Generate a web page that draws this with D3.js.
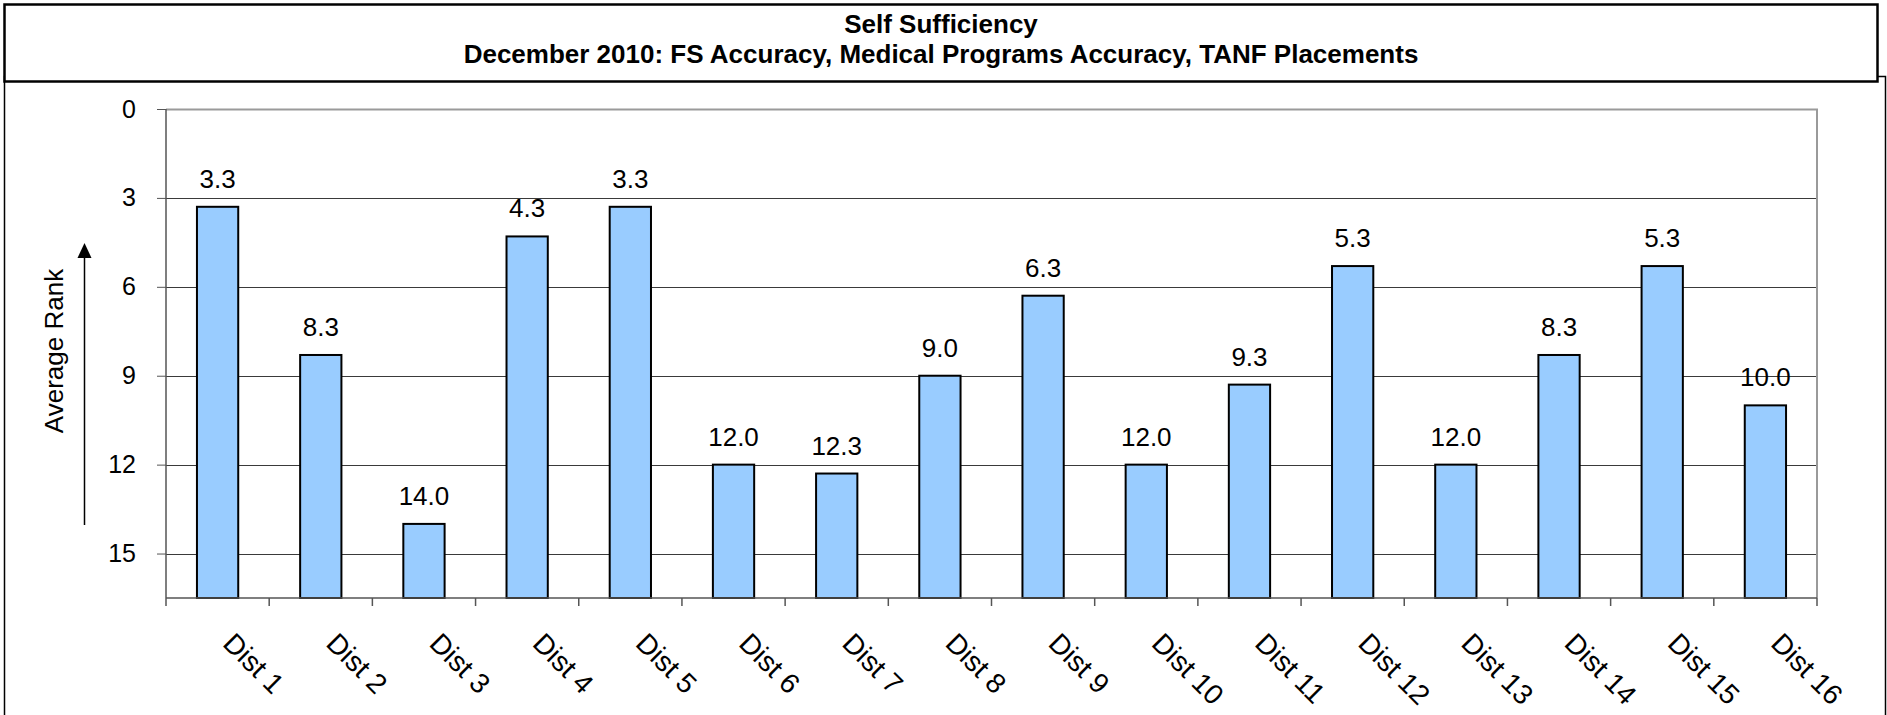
<!DOCTYPE html>
<html>
<head>
<meta charset="utf-8">
<script src="https://d3js.org/d3.v7.min.js"></script>
<style>
  body { margin: 0; background: #fff; }
  text { font-family: "Liberation Sans", Arial, sans-serif; }
</style>
</head>
<body>
<script>
var districts = ["Dist 1", "Dist 2", "Dist 3", "Dist 4", "Dist 5", "Dist 6", "Dist 7", "Dist 8",
  "Dist 9", "Dist 10", "Dist 11", "Dist 12", "Dist 13", "Dist 14", "Dist 15", "Dist 16"];
var avgRank = [3.3, 8.3, 14.0, 4.3, 3.3, 12.0, 12.3, 9.0, 6.3, 12.0, 9.3, 5.3, 12.0, 8.3, 5.3, 10.0];
var rankTicks = [0, 3, 6, 9, 12, 15];
var titleLines = ["Self Sufficiency", "December 2010: FS Accuracy, Medical Programs Accuracy, TANF Placements"];

var W = 1887, H = 715;
var margin = {top: 109, right: 70, bottom: 117, left: 166},
    width = W - margin.left - margin.right,
    height = H - margin.top - margin.bottom;

var svg = d3.select("body").append("svg")
  .attr("width", W)
  .attr("height", H);

svg.append("rect").attr("width", W).attr("height", H).attr("fill", "#fff");

// outer chart frame (runs off the bottom)
svg.append("rect")
  .attr("x", 4.5).attr("y", 76.5)
  .attr("width", 1881).attr("height", 700)
  .attr("fill", "none").attr("stroke", "#000").attr("stroke-width", 1.5);

// title box
svg.append("rect")
  .attr("x", 4.5).attr("y", 4.5)
  .attr("width", 1873).attr("height", 77)
  .attr("fill", "#fff").attr("stroke", "#000").attr("stroke-width", 2.5);

svg.selectAll(".title")
  .data(titleLines)
  .enter().append("text")
  .attr("class", "title")
  .attr("x", 941)
  .attr("y", function(d, i) { return 33 + i * 30; })
  .attr("text-anchor", "middle")
  .style("font-weight", "bold")
  .style("font-size", "26px")
  .text(function(d) { return d; });

var g = svg.append("g")
  .attr("transform", "translate(" + margin.left + "," + margin.top + ")");

var yscale = d3.scaleLinear()
  .domain([0, 16.5])
  .range([0, height]);

// bands without padding -> tick boundaries and label positions
var xband = d3.scaleBand()
  .domain(districts)
  .range([0, width]);

var xscale = d3.scaleBand()
  .domain(districts)
  .range([0, width])
  .paddingInner(0.6)
  .paddingOuter(0.3);

// gridlines
g.selectAll(".grid")
  .data(rankTicks.slice(1))
  .enter().append("line")
  .attr("x1", 0).attr("x2", width)
  .attr("y1", function(d) { return Math.round(yscale(d)) + 0.5; })
  .attr("y2", function(d) { return Math.round(yscale(d)) + 0.5; })
  .attr("stroke", "#3a3a3a").attr("stroke-width", 1);

// plot area border top/right (gray)
g.append("path")
  .attr("d", "M0,0.5H" + width + "V" + height)
  .attr("fill", "none").attr("stroke", "#9a9a9a").attr("stroke-width", 2);

var y_axis = d3.axisLeft(yscale)
  .tickValues(rankTicks)
  .tickSize(9)
  .tickPadding(21)
  .tickFormat(d3.format("d"));

var ya = g.append("g").attr("class", "y axis").call(y_axis);
ya.select(".domain").remove();
ya.selectAll("line").attr("stroke", "#555");
ya.selectAll("text")
  .style("font-size", "25px")
  .attr("fill", "#000");

g.append("line")
  .attr("x1", 0).attr("x2", 0).attr("y1", 0).attr("y2", height)
  .attr("stroke", "#555").attr("stroke-width", 1.5);

// bars
g.selectAll(".bar")
  .data(avgRank)
  .enter().append("rect")
  .attr("class", "bar")
  .attr("x", function(d, i) { return xscale(districts[i]); })
  .attr("y", function(d) { return yscale(d); })
  .attr("width", xscale.bandwidth())
  .attr("height", function(d) { return height - yscale(d); })
  .attr("fill", "#99ccff")
  .attr("stroke", "#000")
  .attr("stroke-width", 2);

// value labels
g.selectAll(".lbl")
  .data(avgRank)
  .enter().append("text")
  .attr("class", "lbl")
  .attr("x", function(d, i) { return xscale(districts[i]) + xscale.bandwidth() / 2; })
  .attr("y", function(d) { return yscale(d) - 19; })
  .attr("text-anchor", "middle")
  .style("font-size", "26px")
  .text(function(d) { return d3.format(".1f")(d); });

// x axis line + ticks at band edges
var edges = districts.map(function(d) { return xband(d); }).concat([width]);
g.append("line")
  .attr("x1", 0).attr("x2", width).attr("y1", height).attr("y2", height)
  .attr("stroke", "#555").attr("stroke-width", 1.5);
g.selectAll(".xtick")
  .data(edges)
  .enter().append("line")
  .attr("x1", function(d) { return d; }).attr("x2", function(d) { return d; })
  .attr("y1", height).attr("y2", height + 8)
  .attr("stroke", "#555").attr("stroke-width", 1.5);

g.selectAll(".xlabel")
  .data(districts)
  .enter().append("text")
  .attr("class", "xlabel")
  .attr("transform", function(d) {
    return "translate(" + (xband(d) + xband.bandwidth() / 2 + 4) + "," + (height + 47) + ") rotate(45)";
  })
  .style("font-size", "28px")
  .text(function(d) { return d; });

// y axis title with arrow
svg.append("text")
  .attr("transform", "translate(63,351) rotate(-90)")
  .attr("text-anchor", "middle")
  .style("font-size", "26px")
  .text("Average Rank");

svg.append("line")
  .attr("x1", 84.5).attr("x2", 84.5).attr("y1", 525).attr("y2", 256)
  .attr("stroke", "#000").attr("stroke-width", 1.5);
svg.append("path")
  .attr("d", "M84.5,243L91.5,258L77.5,258Z")
  .attr("fill", "#000");
</script>
</body>
</html>
